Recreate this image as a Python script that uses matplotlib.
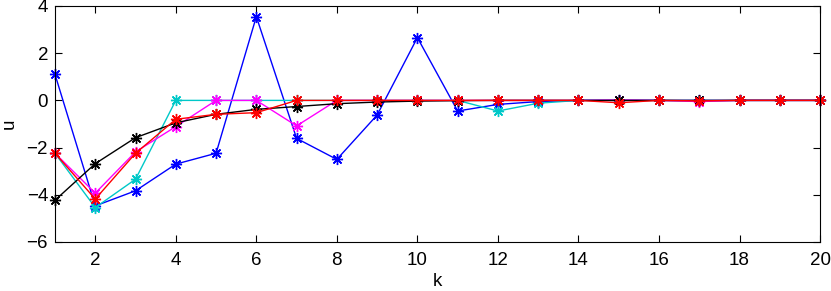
import numpy as np
import matplotlib
matplotlib.use('Agg')
import matplotlib.pyplot as plt

k = np.arange(1, 21)

u_blue = [1.1, -4.47, -3.83, -2.7, -2.24, 3.55, -1.61, -2.5, -0.62, 2.66,
          -0.45, -0.17, -0.05, 0, 0, 0, 0, 0, 0, 0]
u_cyan = [-2.24, -4.54, -3.34, 0, 0, 0, 0, 0, 0, 0,
          0, -0.45, -0.12, 0, 0, 0, -0.03, 0, 0, 0]
u_magenta = [-2.24, -3.93, -2.18, -1.11, 0, 0, -1.08, 0, 0, 0,
             0, 0, 0, 0, 0.02, 0, -0.05, 0, 0, 0]
u_black = [-4.23, -2.68, -1.58, -0.95, -0.59, -0.38, -0.26, -0.14, -0.07, -0.03,
           -0.01, 0, 0, 0, 0, 0, 0, 0, 0, 0]
u_red = [-2.24, -4.18, -2.24, -0.8, -0.59, -0.52, 0, 0, 0, 0,
         0, 0, 0, 0, -0.1, 0, -0.02, 0, 0, 0]

plt.rcParams['font.family'] = ['Liberation Sans', 'DejaVu Sans']
plt.rcParams['font.size'] = 13.5

fig = plt.figure(figsize=(8.31, 2.91), dpi=100)
ax = fig.add_axes([0.0662, 0.1684, 0.9206, 0.811])

star = (8, 2, 0)
for u, c in [(u_blue, '#0000ff'), (u_cyan, '#00c8c8'), (u_magenta, '#ff00ff'),
             (u_black, 'black'), (u_red, '#ff0000')]:
    ax.plot(k, u, color=c, lw=1, marker=star, markersize=8, markeredgewidth=1,
            clip_on=False)

ax.set_xlim(1, 20)
ax.set_ylim(-6, 4)
ax.set_xticks(range(2, 21, 2))
ax.set_yticks(range(-6, 5, 2))
ax.set_yticklabels(['\u22126', '\u22124', '\u22122', '0', '2', '4'])
ax.tick_params(direction='in', top=True, right=True, length=5, width=0.8)
ax.tick_params(axis='x', pad=7)
ax.tick_params(axis='y', pad=5)
for s in ax.spines.values():
    s.set_linewidth(0.8)
ax.set_xlabel('k', labelpad=3)
ax.set_ylabel('u', labelpad=6)

fig.savefig('out.png', dpi=100)
